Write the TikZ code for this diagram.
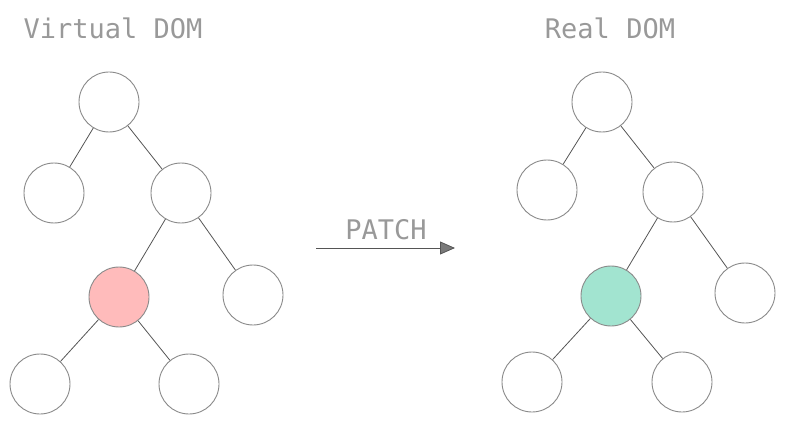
\documentclass[tikz,border=0pt]{standalone}
\usepackage{fontspec}
\setmonofont{DejaVu Sans Mono}
\usetikzlibrary{arrows.meta,positioning}
\definecolor{Ink}{HTML}{999999}
\definecolor{Rim}{HTML}{8A8A8A}
\definecolor{Edge}{HTML}{555555}
\definecolor{Old}{HTML}{FFBBBB}
\definecolor{New}{HTML}{A2E4D0}

\begin{document}
\begin{tikzpicture}[x=1pt,y=-1pt,
 vnode/.style={circle,draw=Rim,line width=0.9pt,fill=white,minimum size=60pt,inner sep=0pt},
 title/.style={text=Ink,font=\ttfamily\fontsize{27}{30}\selectfont,inner sep=0pt},
 edge/.style={draw=Edge,line width=0.8pt},
 arrow/.style={-{Triangle[length=15pt,width=13pt,fill=Ink!80!black]},draw=Edge,line width=0.8pt}]
\useasboundingbox (0,0) rectangle (785,425);
% virtual tree
\node[title] (vtitle) at (113,28) {Virtual DOM};
\node[vnode] (v0) at (109,102) {};
\node[vnode] (v1) at (54,193) {};
\node[vnode] (v2) at (181,193) {};
\node[vnode,fill=Old] (v3) at (119,297) {};
\node[vnode] (v4) at (253,295) {};
\node[vnode] (v5) at (40,384) {};
\node[vnode] (v6) at (189,384) {};
\draw[edge] (v0)--(v1) (v0)--(v2) (v2)--(v3) (v2)--(v4) (v3)--(v5) (v3)--(v6);
% patch
\node[title] (patch) at (386,230) {PATCH};
\coordinate (pa) at (316,248);
\coordinate (pb) at (455,248);
\draw[arrow] (pa)--(pb);
% real tree
\node[title] (rtitle) at (610,28) {Real DOM};
\node[vnode] (r0) at (602,102) {};
\node[vnode] (r1) at (547,190) {};
\node[vnode] (r2) at (673,192) {};
\node[vnode,fill=New] (r3) at (611,296) {};
\node[vnode] (r4) at (745,293) {};
\node[vnode] (r5) at (532,382) {};
\node[vnode] (r6) at (682,382) {};
\draw[edge] (r0)--(r1) (r0)--(r2) (r2)--(r3) (r2)--(r4) (r3)--(r5) (r3)--(r6);
\end{tikzpicture}
\end{document}
